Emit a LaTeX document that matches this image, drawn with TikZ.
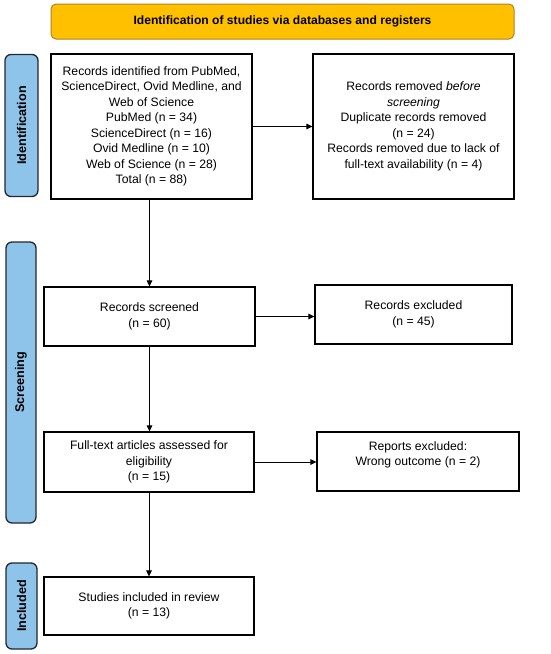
\documentclass[tikz,border=0pt]{standalone}
\usepackage{fontspec}
\setmainfont{Liberation Sans}
\usetikzlibrary{arrows.meta}
\definecolor{bannerfill}{RGB}{255,192,0}
\definecolor{bannerline}{RGB}{180,130,30}
\definecolor{sidefill}{RGB}{143,196,234}
\definecolor{sideline}{RGB}{35,40,45}
\tikzset{
  box/.style={draw=black, line width=1.1pt, fill=white, inner sep=0pt, align=center,
    font=\fontsize{12.2}{15.5}\selectfont},
  banner/.style={draw=bannerline, line width=1pt, fill=bannerfill, rounded corners=5pt,
    inner sep=0pt, font=\fontsize{12.1}{14}\selectfont\bfseries},
  side/.style={draw=sideline, line width=1.3pt, fill=sidefill, rounded corners=6pt,
    inner sep=0pt},
  sidetext/.style={rotate=90, font=\fontsize{12.6}{14}\selectfont\bfseries, inner sep=0pt},
  arr/.style={line width=1pt, -{Triangle[length=6pt,width=5.5pt]}}
}
\begin{document}
\begin{tikzpicture}[x=1pt,y=-1pt]
\useasboundingbox (0,0) rectangle (550,654);
\node[banner, minimum width=463pt, minimum height=35pt] (ban) at (282.5,21.5)
  {Identification of studies via databases and registers};
\node[side, minimum width=33pt, minimum height=142pt] (s1) at (21.5,125.5) {};
\node[sidetext] (s1t) at (s1.center) {Identification};
\node[side, minimum width=30pt, minimum height=281pt] (s2) at (21,382.5) {};
\node[sidetext] (s2t) at (s2.center) {Screening};
\node[side, minimum width=31pt, minimum height=86pt] (s3) at (21.5,606) {};
\node[sidetext] (s3t) at (s3.center) {Included};

\node[box, minimum width=201pt, minimum height=145pt] (b1) at (151.5,126.5)
  {Records identified from PubMed,\\ScienceDirect, Ovid Medline, and\\Web of Science\\PubMed (n = 34)\\ScienceDirect (n = 16)\\Ovid Medline (n = 10)\\Web of Science (n = 28)\\Total (n = 88)};
\node[box, minimum width=201pt, minimum height=145pt] (b2) at (413.5,126.5)
  {Records removed \textit{before}\\\textit{screening}\\Duplicate records removed\\(n = 24)\\Records removed due to lack of\\full-text availability (n = 4)};
\node[box, minimum width=211pt, minimum height=59pt] (b3) at (149.5,316.5)
  {Records screened\\(n = 60)};
\node[box, minimum width=197pt, minimum height=59pt] (b4) at (413.5,314.5)
  {Records excluded\\(n = 45)};
\node[box, minimum width=210pt, minimum height=60pt] (b5) at (149,462)
  {Full-text articles assessed for\\eligibility\\(n = 15)};
\node[box, minimum width=202pt, minimum height=59pt] (b6) at (418,461.5)
  {Reports excluded:\\Wrong outcome (n = 2)\\~};
\node[box, minimum width=210pt, minimum height=58pt] (b7) at (149,606)
  {Studies included in review\\(n = 13)};

\draw[arr] (b1.east) -- (b2.west);
\draw[arr] (b3.north |- b1.south) -- (b3.north);
\draw[arr] (b3.east) -- (b3.east -| b4.west);
\draw[arr] (b3.south) -- (b3.south |- b5.north);
\draw[arr] (b5.east) -- (b5.east -| b6.west);
\draw[arr] (b5.south) -- (b7.north);
\end{tikzpicture}
\end{document}
